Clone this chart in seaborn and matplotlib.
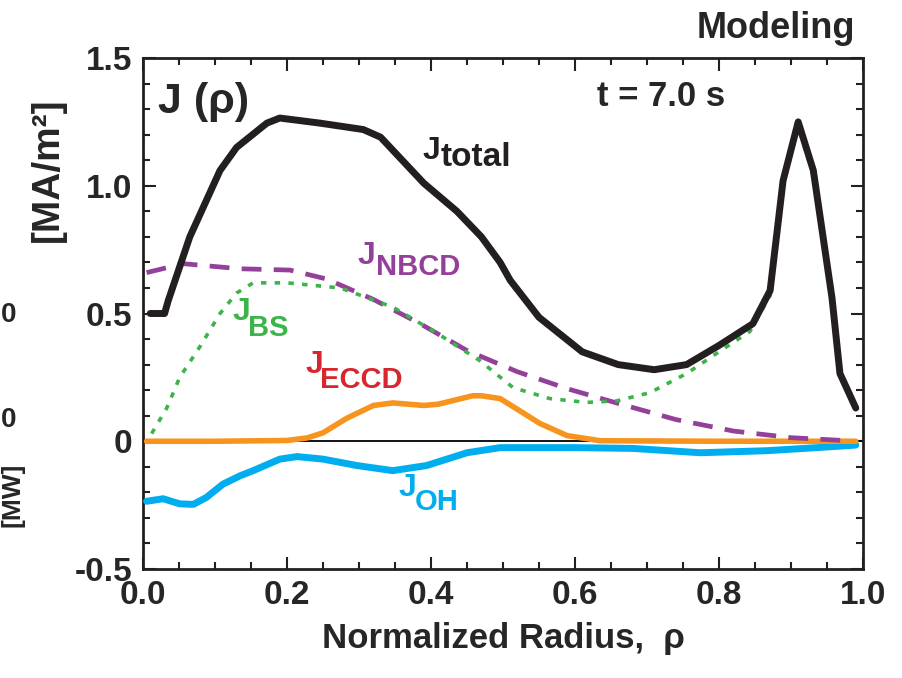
import numpy as np
import pandas as pd
import matplotlib
matplotlib.use("Agg")
import matplotlib.pyplot as plt
import seaborn as sns

# ---- data ----
x_total = [0.01, 0.03, 0.035, 0.065, 0.107, 0.13, 0.172, 0.19, 0.246, 0.306, 0.33, 0.39, 0.436, 0.47,
           0.496, 0.51, 0.55, 0.61, 0.66, 0.71, 0.755, 0.80, 0.847, 0.871, 0.889, 0.91, 0.931, 0.957, 0.968, 0.99]
j_total = [0.50, 0.50, 0.55, 0.80, 1.06, 1.15, 1.245, 1.265, 1.245, 1.22, 1.19, 1.01, 0.90, 0.80,
           0.70, 0.63, 0.485, 0.35, 0.30, 0.28, 0.30, 0.375, 0.46, 0.59, 1.02, 1.25, 1.06, 0.56, 0.265, 0.13]

x_nbcd = [0.005, 0.056, 0.135, 0.204, 0.255, 0.32, 0.385, 0.45, 0.52, 0.59, 0.66, 0.74, 0.82, 0.90, 0.98]
j_nbcd = [0.66, 0.695, 0.675, 0.67, 0.635, 0.555, 0.46, 0.355, 0.272, 0.205, 0.148, 0.085, 0.04, 0.014, 0.002]

x_bs = [0.012, 0.033, 0.051, 0.079, 0.107, 0.13, 0.153, 0.20, 0.274, 0.347, 0.41, 0.468, 0.514,
        0.565, 0.616, 0.658, 0.704, 0.755, 0.80, 0.843, 0.871, 0.889, 0.91, 0.931, 0.957, 0.968, 0.99]
j_bs = [0.03, 0.13, 0.25, 0.37, 0.50, 0.58, 0.62, 0.62, 0.60, 0.525, 0.42, 0.315, 0.21,
        0.167, 0.152, 0.158, 0.19, 0.265, 0.35, 0.43, 0.57, 1.00, 1.23, 1.04, 0.55, 0.26, 0.13]

x_eccd = [0.005, 0.10, 0.20, 0.228, 0.25, 0.283, 0.32, 0.347, 0.39, 0.41, 0.458, 0.47, 0.496, 0.52,
          0.551, 0.589, 0.635, 0.80, 0.99]
j_eccd = [0.0, 0.0, 0.003, 0.013, 0.033, 0.09, 0.14, 0.15, 0.14, 0.145, 0.178, 0.178, 0.167, 0.125,
          0.07, 0.022, 0.002, 0.0, 0.0]

x_oh = [0.005, 0.028, 0.051, 0.07, 0.088, 0.111, 0.135, 0.153, 0.19, 0.214, 0.25, 0.297, 0.347,
        0.394, 0.45, 0.496, 0.60, 0.68, 0.774, 0.866, 0.936, 0.99]
j_oh = [-0.235, -0.225, -0.245, -0.247, -0.22, -0.168, -0.135, -0.115, -0.07, -0.06, -0.07, -0.095, -0.115,
        -0.095, -0.045, -0.025, -0.025, -0.028, -0.045, -0.037, -0.025, -0.015]

x_ticks = [0.0, 0.2, 0.4, 0.6, 0.8, 1.0]
x_ticklabels = ["0.0", "0.2", "0.4", "0.6", "0.8", "1.0"]
y_ticks = [-0.5, 0.0, 0.5, 1.0, 1.5]
y_ticklabels = ["-0.5", "0", "0.5", "1.0", "1.5"]

sns.set_style("ticks")
FONT = ["Liberation Sans", "DejaVu Sans"]
plt.rcParams["font.family"] = FONT
plt.rcParams["font.weight"] = "bold"

fig = plt.figure(figsize=(9.03, 6.78), dpi=100)
ax = fig.add_axes([143 / 903, 1 - 569 / 678, 720 / 903, 511 / 678])

C_TOT = "#231f20"
C_NB = "#93409a"
C_BS = "#3cb44a"
C_EC = "#f7941d"
C_EC_T = "#d7262e"
C_OH = "#00aeef"

ax.axhline(0, color="black", lw=1.3, zorder=1)

df = lambda x, y: pd.DataFrame({"rho": x, "J": y})
sns.lineplot(data=df(x_oh, j_oh), x="rho", y="J", ax=ax, color=C_OH, lw=5.0, sort=False, zorder=3)
sns.lineplot(data=df(x_eccd, j_eccd), x="rho", y="J", ax=ax, color=C_EC, lw=4.0, sort=False, zorder=3)
sns.lineplot(data=df(x_nbcd, j_nbcd), x="rho", y="J", ax=ax, color=C_NB, lw=3.4, sort=False, zorder=4,
             dashes=False, linestyle=(0, (4.2, 2.6)))
sns.lineplot(data=df(x_bs, j_bs), x="rho", y="J", ax=ax, color=C_BS, lw=2.6, sort=False, zorder=4,
             dashes=False, linestyle=(0, (1.5, 2.3)))
sns.lineplot(data=df(x_total, j_total), x="rho", y="J", ax=ax, color=C_TOT, lw=5.0, sort=False, zorder=5)

ax.set_xlim(0, 1.0)
ax.set_ylim(-0.5, 1.5)
ax.set_xticks(x_ticks)
ax.set_xticklabels(x_ticklabels)
ax.set_yticks(y_ticks)
ax.set_yticklabels(y_ticklabels)
ax.set_xticks(np.arange(0, 1.0001, 0.05), minor=True)
ax.set_yticks(np.arange(-0.5, 1.5001, 0.1), minor=True)
ax.tick_params(which="both", direction="in", top=True, right=True, width=1.5, color="#231f20")
ax.tick_params(which="major", length=9, labelsize=24, pad=8)
ax.tick_params(which="minor", length=5)
for lab in ax.get_xticklabels() + ax.get_yticklabels():
    lab.set_fontweight("bold")
    lab.set_fontfamily(FONT)
for s in ax.spines.values():
    s.set_linewidth(2.0)
    s.set_color("#231f20")

ax.set_xlabel("Normalized Radius,  ρ", fontsize=25, fontweight="bold", labelpad=8)
ax.set_ylabel("")

# y label
fig.text(48 / 903, 1 - 170 / 678, "[MA/m²]", rotation=90, ha="center", va="center",
         fontsize=28, fontweight="bold")

# title and annotations
fig.text(855 / 903, 1 - 29 / 678, "Modeling", ha="right", va="center", fontsize=26, fontweight="bold")
fig.text(661 / 903, 1 - 96 / 678, "t = 7.0 s", ha="center", va="center", fontsize=25, fontweight="bold")
fig.text(158 / 903, 1 - 102 / 678, "J (ρ)", ha="left", va="center", fontsize=31, fontweight="bold")


def jlabel(xj, yj, sub, color, xs, ys, fs=21):
    fig.text(xj / 903, 1 - yj / 678, "J", ha="left", va="center", fontsize=23, fontweight="bold", color=color)
    fig.text(xs / 903, 1 - ys / 678, sub, ha="left", va="center", fontsize=fs, fontweight="bold", color=color)


jlabel(423, 151, "total", C_TOT, 441, 157, fs=24)
jlabel(358, 256, "NBCD", C_NB, 376, 267)
jlabel(233, 312, "BS", C_BS, 248, 328)
jlabel(306, 365, "ECCD", C_EC_T, 320, 380)
jlabel(399, 488, "OH", C_OH, 415, 502)

# fragments of the neighbouring panel at the left edge
fig.text(1 / 903, 1 - 315 / 678, "0", ha="left", va="center", fontsize=20, fontweight="bold")
fig.text(1 / 903, 1 - 420 / 678, "0", ha="left", va="center", fontsize=20, fontweight="bold")
fig.text(1 / 903, 1 - 495 / 678, "[MW]", rotation=90, ha="left", va="center", fontsize=19, fontweight="bold")

fig.savefig("out.png", dpi=100)
